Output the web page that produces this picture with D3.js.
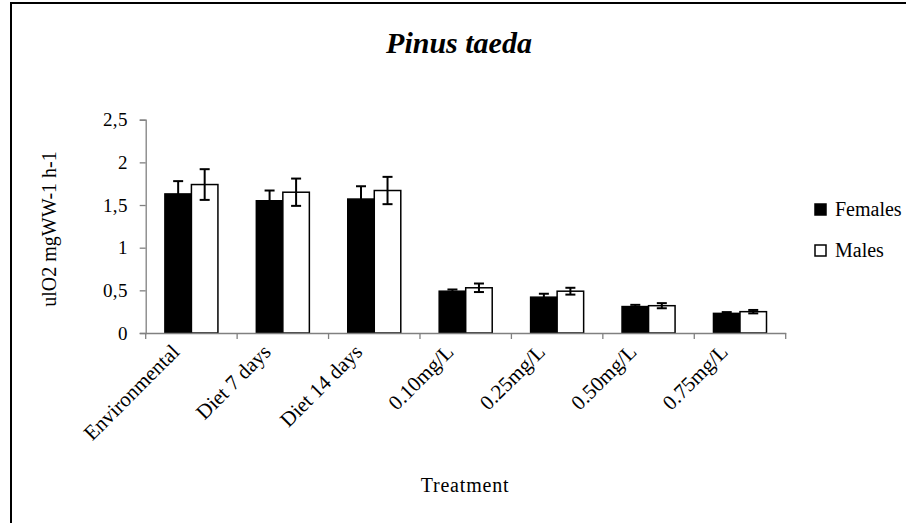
<!DOCTYPE html>
<html>
<head>
<meta charset="utf-8">
<script src="https://cdn.jsdelivr.net/npm/d3@7"></script>
<style>
  html, body { margin: 0; padding: 0; background: #fff; }
  svg { display: block; }
  svg text { font-family: "Liberation Serif", "Times New Roman", serif; }
</style>
</head>
<body>
<svg id="chart" width="906" height="523"></svg>
<script>
// Oxygen consumption by treatment, Pinus taeda
const categories = ["Environmental", "Diet 7 days", "Diet 14 days", "0.10mg/L", "0.25mg/L", "0.50mg/L", "0.75mg/L"];
const series = ["Females", "Males"];
const femaleValues = [1.63, 1.55, 1.57, 0.49, 0.42, 0.31, 0.23];
const femaleErrors = [0.15, 0.12, 0.15, 0.02, 0.04, 0.02, 0.015];
const maleValues = [1.74, 1.65, 1.67, 0.53, 0.49, 0.32, 0.25];
const maleErrors = [0.18, 0.16, 0.16, 0.05, 0.04, 0.03, 0.02];
const yTicks = [0, 0.5, 1, 1.5, 2, 2.5];
const yTickLabels = ["0", "0,5", "1", "1,5", "2", "2,5"];

const SERIF = "'Liberation Serif', 'Times New Roman', serif";
const svg = d3.select("#chart");

// frame
svg.append("path")
  .attr("d", "M11,530 L11,3 L920,3")
  .attr("fill", "none")
  .attr("stroke", "#000")
  .attr("stroke-width", 2);

const x0 = d3.scaleBand().domain(categories).range([145.7, 785.7])
  .paddingInner(0.42).paddingOuter(0.21);
const x1 = d3.scaleBand().domain(series).range([0, x0.bandwidth()]);
const y = d3.scaleLinear().domain([0, 2.5]).range([333, 119.7]);

const rows = categories.map((c, i) => ({
  cat: c,
  items: [
    { s: "Females", v: femaleValues[i], e: femaleErrors[i], fill: "#000" },
    { s: "Males", v: maleValues[i], e: maleErrors[i], fill: "#fff" }
  ]
}));

// y axis
const yAxis = d3.axisLeft(y).tickValues(yTicks)
  .tickFormat((d, i) => yTickLabels[i]).tickSize(6).tickPadding(12);
const gy = svg.append("g").attr("transform", "translate(145.7,0)").call(yAxis)
  .attr("font-family", SERIF).attr("font-size", 19);
gy.select(".domain").attr("stroke", "#808080").attr("stroke-width", 1.3);
gy.selectAll(".tick line").attr("stroke", "#808080").attr("stroke-width", 1.3);
gy.selectAll(".tick text").attr("fill", "#000").attr("letter-spacing", 0.3);

// bars
const groups = svg.append("g").selectAll("g").data(rows).join("g")
  .attr("transform", d => `translate(${x0(d.cat)},0)`);

groups.selectAll("rect").data(d => d.items).join("rect")
  .attr("x", d => x1(d.s))
  .attr("y", d => y(d.v))
  .attr("width", x1.bandwidth())
  .attr("height", d => y(0) - y(d.v))
  .attr("fill", d => d.fill)
  .attr("stroke", "#000")
  .attr("stroke-width", 1.5);

// x axis
const xAxis = d3.axisBottom(x0).tickSize(0).tickFormat("");
const gx = svg.append("g").attr("transform", "translate(0,333)").call(xAxis);
gx.select(".domain").attr("stroke", "#808080").attr("stroke-width", 1.3);
const tickPos = d3.range(categories.length + 1).map(i => 145.7 + i * x0.step());
gx.selectAll(".sep").data(tickPos).join("line")
  .attr("x1", d => d).attr("x2", d => d)
  .attr("y1", 0).attr("y2", 6)
  .attr("stroke", "#808080").attr("stroke-width", 1.3);

// error bars
const err = groups.selectAll("g.err").data(d => d.items).join("g").attr("class", "err");
const capW = 10;
err.append("line")
  .attr("x1", d => x1(d.s) + x1.bandwidth() / 2)
  .attr("x2", d => x1(d.s) + x1.bandwidth() / 2)
  .attr("y1", d => y(d.v + d.e))
  .attr("y2", d => y(d.v - d.e))
  .attr("stroke", "#000").attr("stroke-width", 2);
err.selectAll("line.cap").data(d => [
  { d, v: d.v + d.e }, { d, v: d.v - d.e }
]).join("line").attr("class", "cap")
  .attr("x1", o => x1(o.d.s) + x1.bandwidth() / 2 - capW / 2)
  .attr("x2", o => x1(o.d.s) + x1.bandwidth() / 2 + capW / 2)
  .attr("y1", o => y(o.v))
  .attr("y2", o => y(o.v))
  .attr("stroke", "#000").attr("stroke-width", 2);

// category labels, rotated
svg.append("g").selectAll("text").data(categories).join("text")
  .attr("transform", d => `translate(${x0(d) + x0.bandwidth() / 2 - 16},348) rotate(-45)`)
  .attr("text-anchor", "end")
  .attr("dy", "0.35em")
  .attr("font-family", SERIF)
  .attr("font-size", 21)
  .text(d => d);

// title
svg.append("text")
  .attr("x", 459).attr("y", 53)
  .attr("text-anchor", "middle")
  .attr("font-family", SERIF)
  .attr("font-size", 30)
  .attr("font-weight", "bold")
  .attr("font-style", "italic")
  .text("Pinus taeda");

// axis titles
svg.append("text")
  .attr("x", 465).attr("y", 492)
  .attr("text-anchor", "middle")
  .attr("font-family", SERIF)
  .attr("font-size", 20)
  .attr("letter-spacing", 0.8)
  .text("Treatment");

svg.append("text")
  .attr("transform", "translate(56,229) rotate(-90)")
  .attr("text-anchor", "middle")
  .attr("font-family", SERIF)
  .attr("font-size", 20)
  .text("ulO2 mgWW-1 h-1");

// legend
const legend = svg.append("g").selectAll("g").data([
  { name: series[0], fill: "#000" },
  { name: series[1], fill: "#fff" }
]).join("g").attr("transform", (d, i) => `translate(815,${204 + i * 41})`);
legend.append("rect")
  .attr("width", 11).attr("height", 11)
  .attr("fill", d => d.fill).attr("stroke", "#000").attr("stroke-width", 1.5);
legend.append("text")
  .attr("x", 20).attr("y", 11.5)
  .attr("font-family", SERIF)
  .attr("font-size", 20)
  .text(d => d.name);
</script>
</body>
</html>
